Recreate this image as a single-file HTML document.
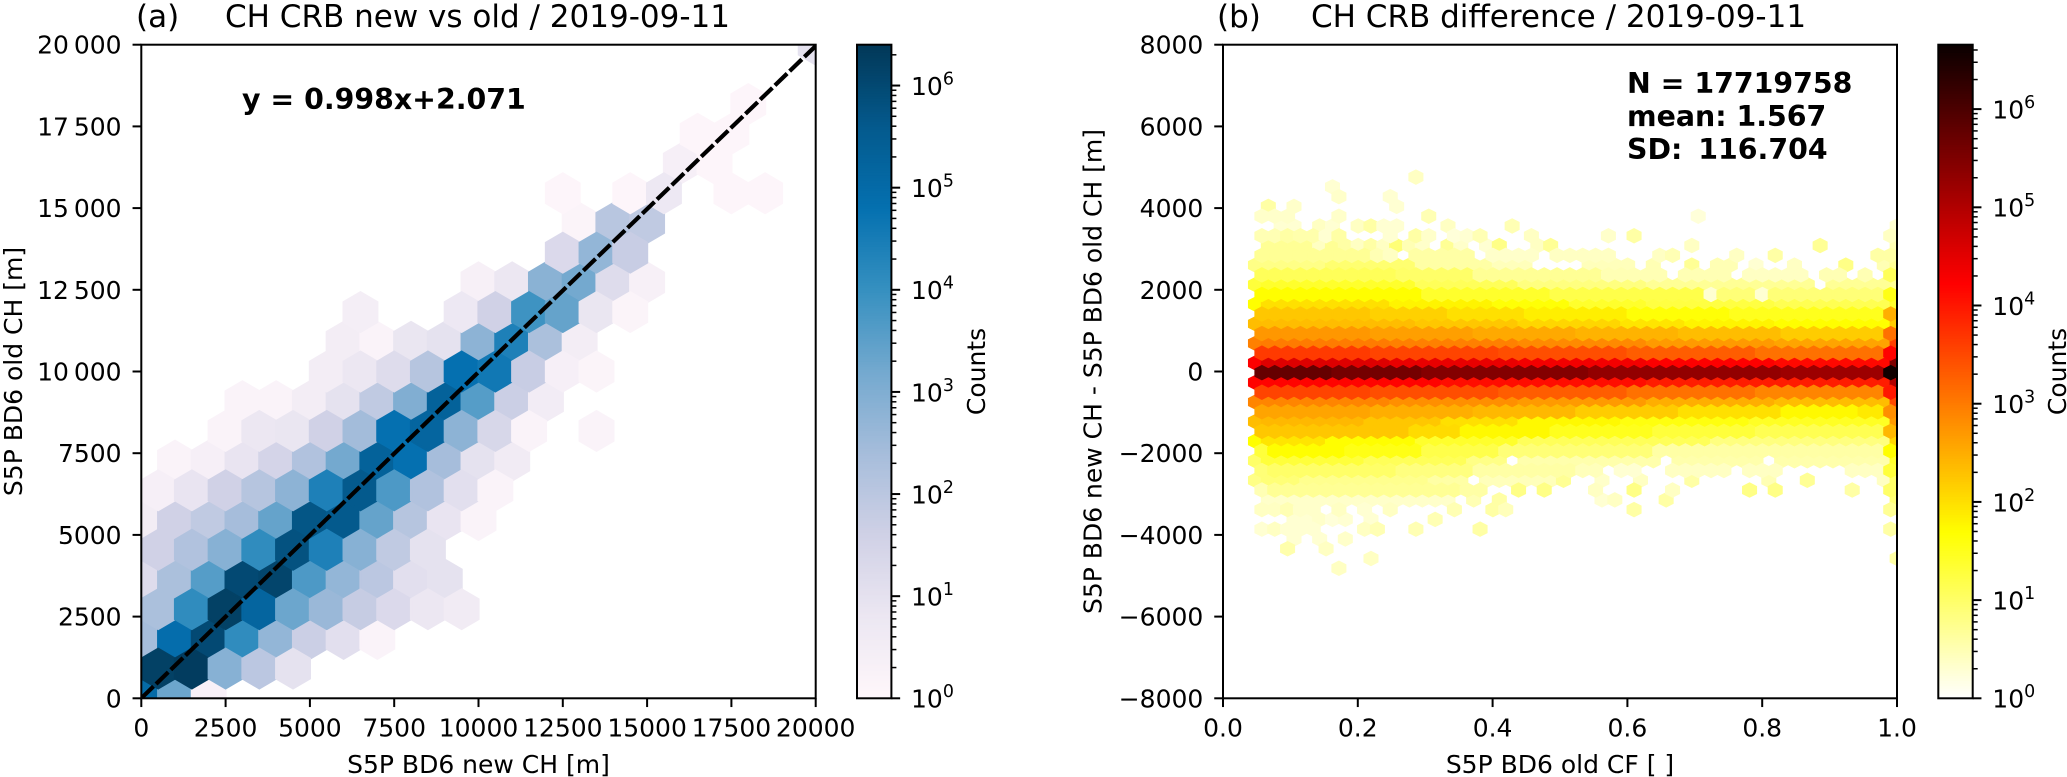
<!DOCTYPE html>
<html><head><meta charset="utf-8"><title>CH CRB comparison</title>
<style>
html,body{margin:0;padding:0;background:#fff}
svg{display:block}
text{font-family:"DejaVu Sans","Liberation Sans",sans-serif;fill:#000}
.t{font-size:25px}.ti{font-size:31px}.b{font-size:28.4px;font-weight:bold}
</style></head><body>
<svg id="fig" xmlns="http://www.w3.org/2000/svg" width="2067" height="777" viewBox="0 0 2067 777">
<defs>
<clipPath id="clipA"><rect x="141.3" y="44.7" width="674.4" height="653.6"/></clipPath>
<clipPath id="clipB"><rect x="1223" y="44.7" width="674" height="653.6"/></clipPath>
</defs>
<rect width="2067" height="777" fill="#fff"/>
<g id="hexA" clip-path="url(#clipA)"></g>
<g id="lineA" clip-path="url(#clipA)"></g>
<g id="hexB" clip-path="url(#clipB)"></g>
<g id="axes"></g>
<text class="ti" x="136" y="27">(a)</text>
<text class="ti" x="225" y="27">CH CRB new vs old / 2019-09-11</text>
<text class="ti" x="1217" y="27">(b)</text>
<text class="ti" x="1311" y="27">CH CRB difference / 2019-09-11</text>
<text class="b" x="242" y="109">y = 0.998x+2.071</text>
<text class="b" x="1627" y="93">N = 17719758</text>
<text class="b" x="1627" y="126">mean: 1.567</text>
<text class="b" x="1627" y="159" xml:space="preserve">SD: <tspan dx="6">116.704</tspan></text>
<text class="t" x="478.5" y="773" text-anchor="middle">S5P BD6 new CH [m]</text>
<text class="t" x="1560" y="773" text-anchor="middle">S5P BD6 old CF [ ]</text>
<text class="t" transform="translate(22 371.5) rotate(-90)" text-anchor="middle">S5P BD6 old CH [m]</text>
<text class="t" transform="translate(1101.7 371.5) rotate(-90)" text-anchor="middle">S5P BD6 new CH - S5P BD6 old CH [m]</text>
<text class="t" transform="translate(985 371.5) rotate(-90)" text-anchor="middle">Counts</text>
<text class="t" transform="translate(2066 371.5) rotate(-90)" text-anchor="middle">Counts</text>
</svg>
<script>
// ---- Panel A data: log10(counts) per hex row, row index = bottom to top ----
const aRowStart = [0,0,0,0,0,0,0,0,1,2,3,5,6,6,10,12,13,12,16,16,18,0,20];
const aRowLog = [
[5.0,3.3,0.3],
[6.2,6.3,2.9,2.0,1.0],
[2.4,4.9,6.0,4.1,2.7,1.7,1.1,0.2],
[2.3,4.1,6.2,5.2,3.3,2.6,1.8,1.3,0.8,0.6],
[1.2,2.3,3.6,6.0,6.1,3.7,2.7,2.0,1.1,1.0],
[1.6,2.2,2.9,4.1,5.8,4.4,2.9,1.9,1.0],
[0.5,1.6,1.9,2.4,3.4,5.7,5.6,3.4,2.1,0.9,0.2],
[0.4,0.9,1.6,2.1,2.8,4.4,5.6,3.7,2.2,1.1,0.2],
[0.2,0.4,0.9,1.5,2.2,3.2,5.3,4.8,2.4,1.0,0.6],
[0.2,0.8,0.85,1.6,2.45,4.8,5.2,2.8,1.4,0.2,null,0.2],
[0.2,0.2,0.5,1.0,1.9,3.0,5.3,3.6,1.7,0.55],
[0.5,0.8,1.2,2.1,4.8,4.6,1.75,0.4,0.15],
[0.5,0.2,0.85,1.0,2.8,4.4,2.3,0.5],
[0.45,null,null,0.75,1.6,3.9,3.4,0.85,0.15],
[0.35,0.8,2.85,3.2,1.2,0.35],
[1.3,2.7,1.75],
[0.15,2.05,1.9],
[0.1,null,0.1,0.75,null,0.1,0.1],
[0.4,0.1],
[0.1,0.1],
[0.1],
[],
[1.0]
];
const fitSlope = 0.998;
const fitIntercept = 2.071;
const fitRangeX = [0,20000];
const aXTicks = [0,2500,5000,7500,10000,12500,15000,17500,20000];
const aXTickLabels = ["0","2500","5000","7500","10000","12500","15000","17500","20000"];
const aYTicks = [0,2500,5000,7500,10000,12500,15000,17500,20000];
const aYTickLabels = ["0","2500","5000","7500","10\u2009000","12\u2009500","15\u2009000","17\u2009500","20\u2009000"];
const bXTicks = [0,0.2,0.4,0.6,0.8,1.0];
const bXTickLabels = ["0.0","0.2","0.4","0.6","0.8","1.0"];
const bYTicks = [-8000,-6000,-4000,-2000,0,2000,4000,6000,8000];
const bYTickLabels = ["\u22128000","\u22126000","\u22124000","\u22122000","0","2000","4000","6000","8000"];
const cbarDecades = [0,1,2,3,4,5,6];
const cbarMaxLogA = 6.4;
const cbarMaxLogB = 6.656;
// ---- Panel B data: hex rows as [firstColumn,lastColumn,log10(counts)] runs ----
const bRowIndex = [20,19,18,17,16,15,14,13,12,11,10,9,8,7,6,5,4,3,2,1,0,-1,-2,-3,-4,-5,-6,-7,-8,-9,-10,-11,-12,-13,-14,-15,-16,-17,-18,-19,-20];
const bRowRuns = [
[[12,12,.4]],
[[6,6,.3]],
[[6,6,.35],[10,10,.3]],
[[1,1,.6],[3,3,.35],[11,11,.3]],
[[0,2,.35],[6,6,.35],[13,13,.5],[34,34,.25]],
[[2,3,.3],[5,5,.4],[6,6,.3],[8,8,.4],[9,9,.6],[10,11,.3],[15,15,.4],[20,20,.5],[50,50,.3]],
[[0,1,.5],[2,2,.6],[3,4,.55],[5,5,.3],[6,6,.6],[10,10,.3],[12,12,.6],[13,13,.35],[15,15,.25],[16,16,.3],[17,17,.5],[21,21,.4],[27,27,.35],[29,29,.6],[49,49,.4]],
[[1,4,.7],[5,5,.4],[6,6,.7],[7,7,.6],[8,8,.4],[9,9,.6],[10,10,.4],[11,11,.9],[12,12,.5],[13,13,.35],[15,15,.7],[16,16,.35],[18,18,.3],[19,19,.8],[22,22,.4],[23,23,.7],[34,34,.4],[44,44,.7],[50,50,.5]],
[[0,8,.7],[9,9,.5],[10,10,.4],[12,16,.6],[18,21,.35],[23,27,.4],[31,31,.4],[32,32,.5],[37,37,.4],[40,40,.6],[48,49,.6]],
[[0,5,.8],[6,12,.95],[13,18,.6],[19,21,.45],[26,29,.45],[31,31,.5],[34,34,.7],[36,37,.5],[39,39,.3],[42,42,.4],[46,46,.8],[49,49,.5],[50,50,.7]],
[[0,10,1.1],[11,16,1.0],[17,26,.7],[27,31,.5],[33,36,.5],[38,42,.4],[44,45,.5],[47,47,.5],[49,49,1.1]],
[[0,0,1.3],[1,12,1.4],[13,20,1.1],[21,30,.85],[31,43,.7],[45,50,.7]],
[[0,12,1.7],[13,22,1.4],[23,34,1.2],[35,35,.3],[36,38,.9],[39,39,.3],[40,48,.9],[49,49,1.55]],
[[0,0,1.7],[1,10,2.0],[11,18,1.8],[19,24,1.65],[25,30,1.4],[31,40,1.25],[41,49,1.15],[50,50,1.4]],
[[0,8,2.25],[9,14,2.15],[15,20,2.0],[21,28,1.85],[29,36,1.65],[37,48,1.5],[49,49,2.5]],
[[0,12,2.35],[13,20,2.25],[21,28,2.1],[29,33,1.95],[34,40,1.8],[41,49,1.7],[50,50,2.2]],
[[0,8,2.72],[9,16,2.65],[17,24,2.55],[25,32,2.45],[33,40,2.35],[41,48,2.2],[49,49,3.1]],
[[0,0,2.95],[1,10,3.0],[11,20,2.95],[21,30,2.85],[31,40,2.7],[41,49,2.6],[50,50,3.6]],
[[0,8,3.65],[9,18,3.55],[19,28,3.45],[29,38,3.3],[39,48,3.1],[49,49,4.2]],
[[0,0,4.25],[1,10,4.55],[11,20,4.45],[21,30,4.35],[31,40,4.25],[41,49,4.15],[50,50,5.5]],
[[0,5,5.75],[6,12,5.6],[13,25,5.45],[26,40,5.3],[41,48,5.2],[49,49,6.6]],
[[0,0,4.2],[1,14,4.2],[15,30,4.1],[31,49,3.95],[50,50,5.0]],
[[0,8,3.55],[9,18,3.45],[19,28,3.3],[29,38,3.1],[39,48,2.9],[49,49,4.0]],
[[0,0,2.9],[1,10,2.9],[11,20,2.8],[21,30,2.7],[31,40,2.5],[41,49,2.35],[50,50,3.5]],
[[0,8,2.6],[9,16,2.5],[17,24,2.4],[25,32,2.2],[33,40,2.0],[41,46,1.75],[47,48,1.9],[49,49,2.8]],
[[0,0,2.35],[1,8,2.4],[9,14,2.25],[15,20,2.0],[21,28,1.75],[29,38,1.6],[39,49,1.45],[50,50,2.7]],
[[0,11,2.25],[12,15,2.05],[16,22,1.75],[23,30,1.5],[31,38,1.3],[39,48,1.15],[49,49,2.4]],
[[0,0,1.7],[1,5,1.95],[6,12,1.7],[13,20,1.4],[21,35,1.1],[36,49,.85],[50,50,2.1]],
[[0,0,1.3],[1,6,1.7],[7,12,1.55],[13,18,1.2],[19,30,.9],[31,48,.6],[49,49,1.7]],
[[0,0,1.0],[1,8,1.3],[9,16,1.1],[17,19,.8],[21,31,.55],[33,39,.55],[41,49,.55],[50,50,1.4]],
[[0,0,.9],[1,10,1.0],[11,16,.85],[17,24,.6],[25,26,.45],[28,29,.3],[32,36,.4],[38,40,.4],[46,48,.4],[49,49,1.3]],
[[0,0,.8],[1,3,.9],[4,13,.75],[14,16,.6],[18,23,.45],[24,24,.7],[27,27,.35],[30,30,.4],[34,34,.6],[40,40,.5],[43,43,.7],[49,49,.4],[50,50,1.0]],
[[0,0,.5],[1,15,.7],[16,17,.6],[20,20,.8],[22,22,.8],[26,26,.4],[29,29,.8],[32,32,.4],[38,38,.8],[40,40,.8],[46,46,.6],[49,49,1.0]],
[[1,15,.35],[17,17,.5],[19,19,.6],[27,27,.3],[28,28,.4],[32,32,.6],[50,50,.9]],
[[0,1,.4],[2,2,.5],[3,4,.35],[6,6,.4],[8,8,.3],[10,10,.4],[15,15,.5],[18,18,.6],[19,19,.45],[29,29,.6],[49,49,.7]],
[[3,4,.3],[5,5,.35],[6,6,.25],[7,7,.3],[9,9,.3],[14,14,.5]],
[[0,0,.3],[1,1,.4],[2,4,.3],[8,8,.4],[9,9,.5],[12,12,.5],[17,17,.6],[49,49,.6]],
[[3,3,.3],[5,5,.3],[7,7,.35]],
[[2,2,.55],[5,5,.4]],
[[9,9,.4],[50,50,.6]],
[[6,6,.4]]
];

const NS = "http://www.w3.org/2000/svg";
function mk(tag, parent, attrs){
  const el = document.createElementNS(NS, tag);
  for (const k in attrs) el.setAttribute(k, attrs[k]);
  parent.appendChild(el);
  return el;
}
// axis functions
const AX = {l:141.3, r:815.7, t:44.7, b:698.3};
const BX = {l:1223, r:1897, t:44.7, b:698.3};
const xA = v => AX.l + v/20000*(AX.r-AX.l);
const yA = v => AX.b - v/20000*(AX.b-AX.t);
const xB = v => BX.l + v*(BX.r-BX.l);
const yB = v => (BX.t+BX.b)/2 - v/16000*(BX.b-BX.t);
// colormaps
const pubu = [[255,247,251],[236,231,242],[208,209,230],[166,189,219],[116,169,207],[54,144,192],[5,112,176],[4,90,141],[2,56,88]];
function colA(l){
  const t = Math.max(0,Math.min(1,l/cbarMaxLogA))*8;
  const i = Math.min(7,Math.floor(t)), f = t-i;
  const c = pubu[i].map((v,k)=>Math.round(v+(pubu[i+1][k]-v)*f));
  return `rgb(${c[0]},${c[1]},${c[2]})`;
}
function colB(l){
  const t = 1-Math.max(0,Math.min(1,l/cbarMaxLogB));
  const r = Math.min(1,0.0416+0.9584*t/0.365);
  const g = Math.max(0,Math.min(1,(t-0.365)/0.381));
  const b = Math.max(0,(t-0.746)/0.254);
  return `rgb(${Math.round(r*255)},${Math.round(g*255)},${Math.round(b*255)})`;
}
const hexUnit = [[.5,-.5],[.5,.5],[0,1],[-.5,.5],[-.5,-.5],[0,-1]];
function hexPath(cx,cy,w,h3){
  return "M"+hexUnit.map(p=>(cx+p[0]*w).toFixed(2)+" "+(cy+p[1]*h3).toFixed(2)).join("L")+"Z";
}
// panel A hexes: lattice spacing in data units
const sxA = 1000, syA = 20000/11;
const gA = document.getElementById("hexA");
[0,1].forEach(par=>{
  aRowLog.forEach((vals,r)=>{
    if (r%2!==par) return;
    vals.forEach((l,k)=>{
      if (l===null) return;
      const dx = (aRowStart[r]+k+(par?0.5:0))*sxA;
      const dy = r*syA/2;
      const c = colA(l);
      const el = mk("path", gA, {d:hexPath(xA(dx),yA(dy),xA(sxA)-xA(0),(yA(0)-yA(syA))/3), fill:c, stroke:c, "stroke-width":2.2});
      
      
    });
  });
});
// fit line
const gL = document.getElementById("lineA");
const fx0 = fitRangeX[0], fx1 = fitRangeX[1];
const fitCoords = {x1:xA(fx0), y1:yA(fitSlope*fx0+fitIntercept), x2:xA(fx1), y2:yA(fitSlope*fx1+fitIntercept)};
const fitDash = mk("line", gL, Object.assign({stroke:"#000","stroke-width":4.2,"stroke-dasharray":"17 3.5"}, fitCoords));


// panel B hexes
const xminB = 0.0482, sxB = 0.01904, rowStepB = 239.4, rowOriginB = -29;
const gB = document.getElementById("hexB");
[1,0].forEach(par=>{
  const order = bRowIndex.map((r,i)=>i).filter(i=>Math.abs(bRowIndex[i])%2===par).sort((a,b)=>bRowIndex[a]-bRowIndex[b]);
  order.forEach(i=>{
    const r = bRowIndex[i];
    bRowRuns[i].forEach(run=>{
      for (let c=run[0]; c<=run[1]; c++){
        const dx = xminB+(c+(par?0:0.5))*sxB;
        const dy = rowOriginB+r*rowStepB;
        const col = colB(run[2]);
        const el = mk("path", gB, {d:hexPath(xB(dx),yB(dy),xB(sxB)-xB(0),(yB(0)-yB(rowStepB))*2/3), fill:col, stroke:col, "stroke-width":2.2});
        
        
      }
    });
  });
});
// axes
const gAx = document.getElementById("axes");
function spineBox(b,name){
  const el = mk("rect", gAx, {x:b.l,y:b.t,width:b.r-b.l,height:b.b-b.t,fill:"none",stroke:"#000","stroke-width":2});
  
  
}
spineBox(AX,"axes-frame-a");
spineBox(BX,"axes-frame-b");
function xTicks(ticks,labels,fn,box,name){
  ticks.forEach((v,i)=>{
    const x = fn(v);
    const tk = mk("line", gAx, {x1:x,x2:x,y1:box.b,y2:box.b+8.75,stroke:"#000","stroke-width":2});
    
    
    const tx = mk("text", gAx, {x:x,y:736.7,"text-anchor":"middle",class:"t"});
    
    
    tx.textContent = labels[i];
  });
}
function yTicks(ticks,labels,fn,box,name){
  ticks.forEach((v,i)=>{
    const y = fn(v);
    const tk = mk("line", gAx, {x1:box.l-8.75,x2:box.l,y1:y,y2:y,stroke:"#000","stroke-width":2});
    
    
    const tx = mk("text", gAx, {x:box.l-19.7,y:y+9,"text-anchor":"end",class:"t"});
    
    
    tx.textContent = labels[i];
  });
}
xTicks(aXTicks,aXTickLabels,xA,AX,"x-axis-a");
yTicks(aYTicks,aYTickLabels,yA,AX,"y-axis-a");
xTicks(bXTicks,bXTickLabels,xB,BX,"x-axis-b");
yTicks(bYTicks,bYTickLabels,yB,BX,"y-axis-b");
// colorbars
function colorbar(x0,maxLog,colFn,name){
  const w = 34.4, top = 44.7, bot = 698.3, H = bot-top;
  const y = l => bot - l/maxLog*H;
  const N = 256;
  const sl = H/N;
  for (let i=0;i<N;i++){
    const l = (i+0.5)/N*maxLog;
    const seg = mk("rect", gAx, {x:x0,y:(bot-(i+1)*sl).toFixed(2),width:w,height:(sl+0.6).toFixed(2),fill:colFn(l)});
    
    
  }
  const fr = mk("rect", gAx, {x:x0,y:top,width:w,height:H,fill:"none",stroke:"#000","stroke-width":2});
  
  
  cbarDecades.forEach(d=>{
    const yy = y(d);
    const tk = mk("line", gAx, {x1:x0+w,x2:x0+w+8.75,y1:yy,y2:yy,stroke:"#000","stroke-width":2});
    
    
    const tx = mk("text", gAx, {x:x0+w+19.6,y:yy+9.4,class:"t"});
    
    
    tx.textContent = "10";
    const sup = mk("tspan", tx, {dy:-10.5,"font-size":"17.4px"});
    sup.textContent = String(d);
    for (let m=2;m<=9;m++){
      const lv = d+Math.log10(m);
      if (lv>maxLog) break;
      const yy2 = y(lv);
      const mt = mk("line", gAx, {x1:x0+w,x2:x0+w+5,y1:yy2,y2:yy2,stroke:"#000","stroke-width":1.5});
      
      
    }
  });
}
colorbar(857,cbarMaxLogA,colA,"colorbar-a");
colorbar(1938.3,cbarMaxLogB,colB,"colorbar-b");
</script>
</body></html>
